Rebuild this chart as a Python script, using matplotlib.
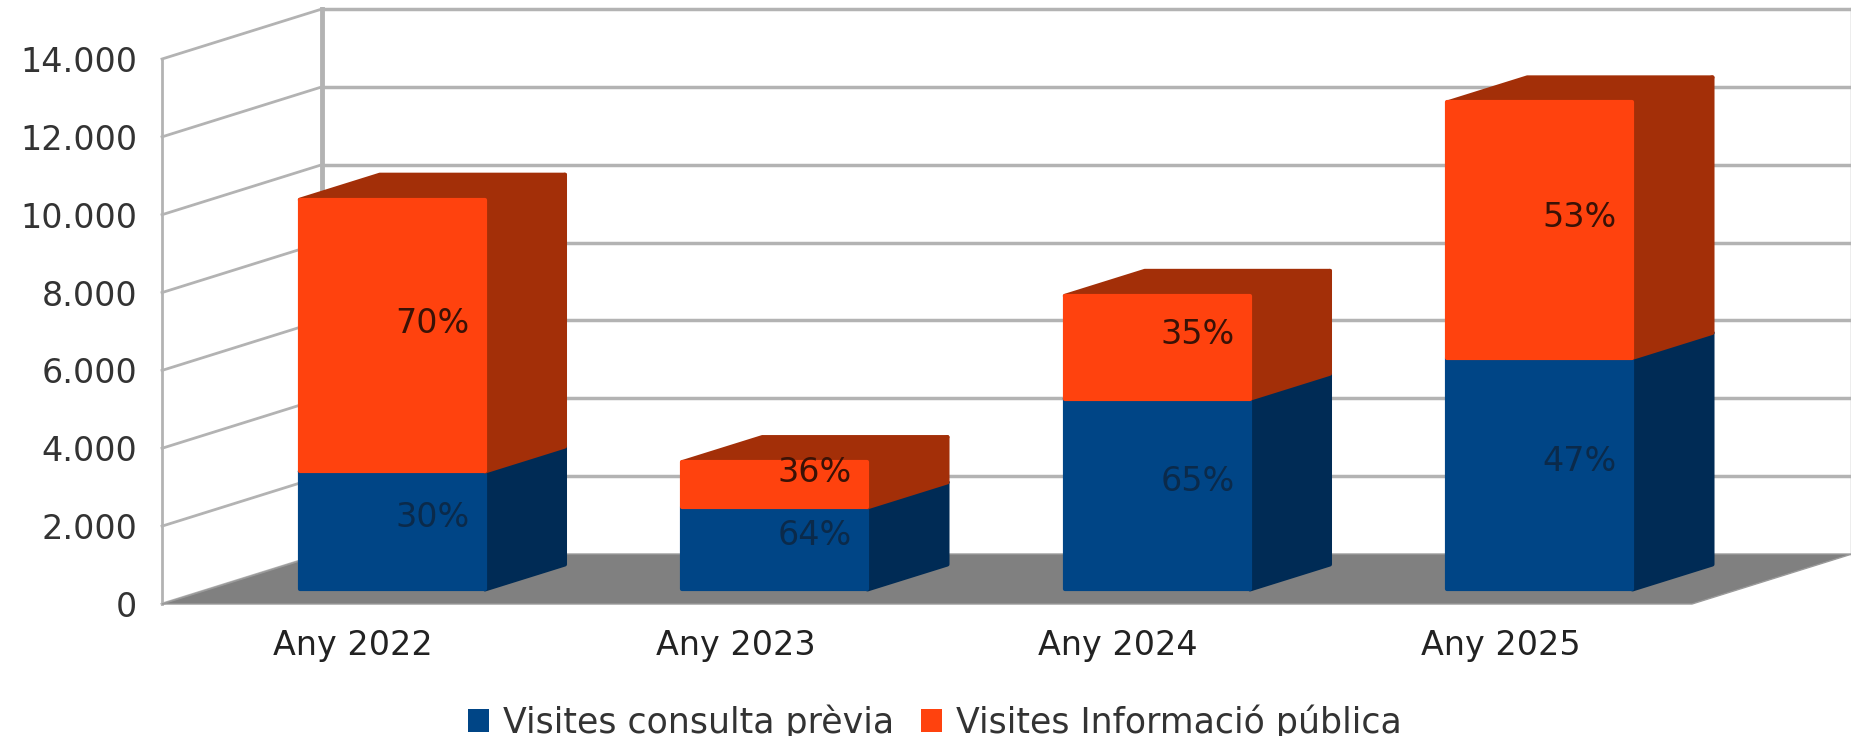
import matplotlib
matplotlib.use('Agg')
import matplotlib.pyplot as plt
from matplotlib.patches import Polygon, Patch

# values
categories = ['Any 2022', 'Any 2023', 'Any 2024', 'Any 2025']
consulta = [3030, 2110, 4900, 5950]
informacio = [6980, 1160, 2640, 6560]
pct_consulta = ['30%', '64%', '65%', '47%']
pct_informacio = ['70%', '36%', '35%', '53%']
yticks = [0, 2000, 4000, 6000, 8000, 10000, 12000, 14000]
yticklabels = ['0', '2.000', '4.000', '6.000', '8.000', '10.000', '12.000', '14.000']

BLUE, BLUE_DARK = '#004586', '#002b55'
ORANGE, ORANGE_DARK = '#ff420e', '#a32f08'
GRID = '#b3b3b3'

# fake 3D: how far the back wall is shifted from the front plane
DEPTH_X = 0.418
DEPTH_Y = 1284
BAR_WIDTH = 0.484
BAR_NEAR = 0.245  # bar front, as fraction of the depth
BAR_FAR = 0.745   # bar back
BASE_LIFT = 60    # bars stand a bit above the floor line


def shift(x, y, t):
    return (x + DEPTH_X * t, y + BASE_LIFT + DEPTH_Y * t)


def draw_block(ax, x, y0, y1, front, dark, z):
    left = x - BAR_WIDTH / 2
    right = x + BAR_WIDTH / 2
    faces = [
        ([shift(right, y0, BAR_NEAR), shift(right, y0, BAR_FAR),
          shift(right, y1, BAR_FAR), shift(right, y1, BAR_NEAR)], dark),
        ([shift(left, y1, BAR_NEAR), shift(right, y1, BAR_NEAR),
          shift(right, y1, BAR_FAR), shift(left, y1, BAR_FAR)], dark),
        ([shift(left, y0, BAR_NEAR), shift(right, y0, BAR_NEAR),
          shift(right, y1, BAR_NEAR), shift(left, y1, BAR_NEAR)], front),
    ]
    for pts, col in faces:
        ax.add_patch(Polygon(pts, closed=True, facecolor=col, edgecolor=col, lw=3,
                             joinstyle='round', zorder=z, clip_on=False))


fig = plt.figure(figsize=(18.51, 7.36), dpi=100)
ax = fig.add_axes([162 / 1851, (736 - 604) / 736, 1530 / 1851, 545 / 736])
ax.set_xlim(0, 4)
ax.set_ylim(0, 14000)
ax.patch.set_visible(False)
for s in ax.spines.values():
    s.set_visible(False)

# walls and floor
bx = DEPTH_X
ex = 4 + DEPTH_X
for v in yticks:
    ax.plot([0, bx], [v, v + DEPTH_Y], color=GRID, lw=2, clip_on=False, zorder=1)
    if v > 0:
        ax.plot([bx, ex], [v + DEPTH_Y, v + DEPTH_Y], color=GRID, lw=2.5, clip_on=False, zorder=1)
ax.plot([0, 0], [0, 14000], color=GRID, lw=2, clip_on=False, zorder=1)
ax.plot([bx, bx], [DEPTH_Y, 14000 + DEPTH_Y], color=GRID, lw=3.5, clip_on=False, zorder=1)
ax.plot([ex, ex], [DEPTH_Y, 14000 + DEPTH_Y], color=GRID, lw=2.5, clip_on=False, zorder=1)
ax.add_patch(Polygon([(0, 0), (4, 0), (ex, DEPTH_Y), (bx, DEPTH_Y)], closed=True,
                     facecolor='#808080', edgecolor='#9a9a9a', lw=1, zorder=2, clip_on=False))

# bars
xpos = [i + 0.5 for i in range(len(categories))]
for i, x in enumerate(xpos):
    a = consulta[i]
    b = a + informacio[i]
    draw_block(ax, x, 0, a, BLUE, BLUE_DARK, 3 + i)
    draw_block(ax, x, a, b, ORANGE, ORANGE_DARK, 3 + i)
    # labels sit at the middle of each block
    mid = (BAR_NEAR + BAR_FAR) / 2
    lx, ly = shift(x, a / 2, mid)
    ax.text(lx, ly, pct_consulta[i], ha='center', va='center', fontsize=24,
            color='#0b2a4a', zorder=10)
    lx, ly = shift(x, (a + b) / 2, mid)
    ax.text(lx, ly, pct_informacio[i], ha='center', va='center', fontsize=24,
            color='#3a1206', zorder=10)

ax.set_yticks(yticks)
ax.set_yticklabels(yticklabels, fontsize=24, color='#333333')
ax.set_xticks(xpos)
ax.set_xticklabels(categories, fontsize=24, color='#222222')
ax.tick_params(axis='y', length=0, pad=18)
ax.tick_params(axis='x', length=0, pad=18)

handles = [Patch(facecolor=BLUE, label='Visites consulta prèvia'),
           Patch(facecolor=ORANGE, label='Visites Informació pública')]
fig.legend(handles=handles, ncol=2, loc='center', bbox_to_anchor=(0.505, 1 - 722 / 736),
           frameon=False, fontsize=25, handlelength=0.61, handleheight=0.61,
           handletextpad=0.4, columnspacing=0.78, labelcolor='#333333',
           borderpad=0, borderaxespad=0)

fig.savefig('out.png', dpi=100)
